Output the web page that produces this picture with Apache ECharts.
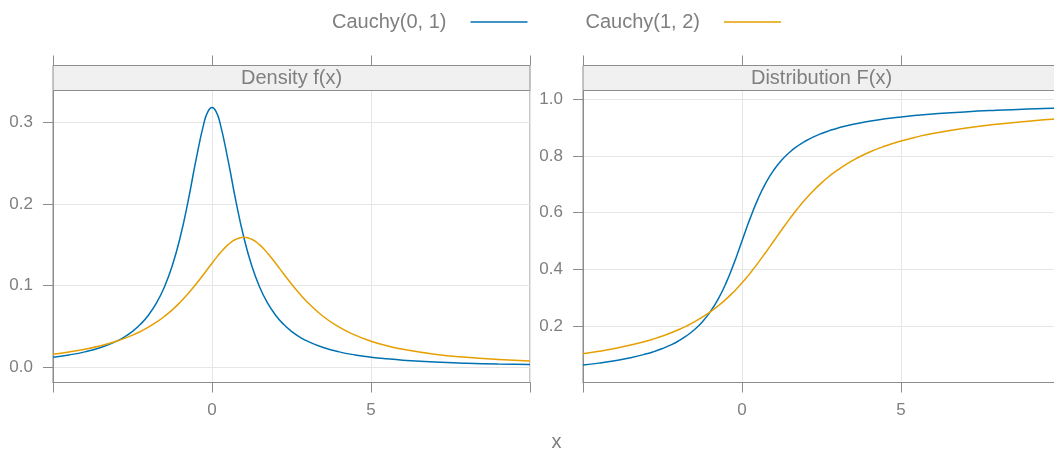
<!DOCTYPE html>
<html>
<head>
<meta charset="utf-8">
<script src="https://cdn.jsdelivr.net/npm/echarts@6/dist/echarts.min.js"></script>
<style>
  html, body { margin: 0; padding: 0; background: #ffffff; overflow: hidden; }
  /* canvas is a little wider than the window: the right panel runs past the edge */
  #chart { width: 1062px; height: 454px; }
</style>
</head>
<body>
<div id="chart"></div>
<script>
// Evaluation points along x
const xs = [-5, -4.5, -4, -3.5, -3, -2.75, -2.5, -2.25, -2, -1.75, -1.5, -1.25, -1, -0.75, -0.5, -0.25, -0.125,
  0, 0.125, 0.25, 0.5, 0.75, 1, 1.25, 1.5, 1.75, 2, 2.25, 2.5, 2.75, 3, 3.5, 4, 4.5, 5, 5.5, 6, 7, 8, 9, 10];

// Density f(x)
const densityStd = [0.01224, 0.01498, 0.01872, 0.02402, 0.03183, 0.03718, 0.04390, 0.05251, 0.06366, 0.07835,
  0.09794, 0.12422, 0.15915, 0.20372, 0.25465, 0.29959, 0.31341, 0.31831, 0.31341, 0.29959, 0.25465, 0.20372,
  0.15915, 0.12422, 0.09794, 0.07835, 0.06366, 0.05251, 0.04390, 0.03718, 0.03183, 0.02402, 0.01872, 0.01498,
  0.01224, 0.01019, 0.00860, 0.00637, 0.00490, 0.00388, 0.00315];
const densityShift = [0.01592, 0.01859, 0.02195, 0.02625, 0.03183, 0.03525, 0.03918, 0.04372, 0.04897, 0.05506,
  0.06211, 0.07025, 0.07958, 0.09014, 0.10186, 0.11445, 0.12090, 0.12732, 0.13359, 0.13953, 0.14979, 0.15671,
  0.15915, 0.15671, 0.14979, 0.13953, 0.12732, 0.11445, 0.10186, 0.09014, 0.07958, 0.06211, 0.04897, 0.03918,
  0.03183, 0.02625, 0.02195, 0.01592, 0.01201, 0.00936, 0.00749];

// Distribution F(x)
const cdfStd = [0.06283, 0.06960, 0.07798, 0.08859, 0.10242, 0.11102, 0.12112, 0.13313, 0.14758, 0.16525,
  0.18717, 0.21478, 0.25, 0.29517, 0.35242, 0.42202, 0.46042, 0.5, 0.53958, 0.57798, 0.64758, 0.70483,
  0.75, 0.78522, 0.81283, 0.83475, 0.85242, 0.86688, 0.87888, 0.88898, 0.89758, 0.91141, 0.92202, 0.93040,
  0.93717, 0.94275, 0.94743, 0.95483, 0.96042, 0.96478, 0.96827];
const cdfShift = [0.10242, 0.11102, 0.12112, 0.13313, 0.14758, 0.15596, 0.16525, 0.17560, 0.18717, 0.20016,
  0.21478, 0.23130, 0.25, 0.27119, 0.29517, 0.32219, 0.33690, 0.35242, 0.36873, 0.38580, 0.42202, 0.46042,
  0.5, 0.53958, 0.57798, 0.61420, 0.64758, 0.67781, 0.70483, 0.72881, 0.75, 0.78522, 0.81283, 0.83475,
  0.85242, 0.86688, 0.87888, 0.89758, 0.91141, 0.92202, 0.93040];

const seriesNames = ['Cauchy(0, 1)', 'Cauchy(1, 2)'];
const panelTitles = ['Density f(x)', 'Distribution F(x)'];
const xLabelTicks = [0, 5];
const densityTicks = [0, 0.1, 0.2, 0.3];
const cdfTicks = [0.2, 0.4, 0.6, 0.8, 1.0];
const xTitle = 'x';

// Styling
const COLORS = ['#0072B2', '#E69F00'];
const TEXT = '#7f7f7f';
const FRAME = '#8c8c8c';
const GRIDLINE = '#e6e6e6';
const STRIP_FILL = '#f0f0f0';
const FONT = '"Liberation Sans", Arial, Helvetica, sans-serif';

// Panel geometry
const TOP = 90.5, HEIGHT = 292, WIDTH = 477, STRIP = 25;
const panels = [
  { left: 53, title: panelTitles[0], ticks: densityTicks, min: -0.0188, max: 0.339, values: [densityStd, densityShift] },
  { left: 583, title: panelTitles[1], ticks: cdfTicks, min: 0.0013, max: 1.0303, values: [cdfStd, cdfShift] }
];

const grid = panels.map(p => ({
  left: p.left, top: TOP, width: WIDTH, height: HEIGHT,
  outerBoundsMode: 'none', containLabel: false,
  show: true, borderColor: FRAME, borderWidth: 1, backgroundColor: '#ffffff'
}));

const xAxis = [];
panels.forEach((p, i) => {
  // bottom axis with labels
  xAxis.push({
    gridIndex: i, type: 'value', min: -5, max: 10, interval: 5, position: 'bottom',
    axisLine: { show: true, onZero: false, lineStyle: { color: FRAME, width: 1 } },
    axisTick: { show: true, length: 10, lineStyle: { color: FRAME, width: 1 } },
    axisLabel: {
      show: true, margin: 19, fontSize: 17, fontFamily: FONT, color: TEXT,
      showMinLabel: true, showMaxLabel: true,
      formatter: v => (xLabelTicks.includes(v) ? String(v) : '')
    },
    splitLine: { show: true, lineStyle: { color: GRIDLINE, width: 1 } }
  });
  // top axis: tick marks above the strip
  xAxis.push({
    gridIndex: i, type: 'value', min: -5, max: 10, interval: 5, position: 'top', offset: STRIP,
    axisLine: { show: false, onZero: false },
    axisTick: { show: true, length: 10, lineStyle: { color: FRAME, width: 1 } },
    axisLabel: { show: false },
    splitLine: { show: false }
  });
});

const yAxis = panels.map((p, i) => ({
  gridIndex: i, type: 'value', min: p.min, max: p.max, position: 'left',
  axisLine: { show: true, onZero: false, lineStyle: { color: FRAME, width: 1 } },
  axisTick: { show: true, length: 10, customValues: p.ticks, lineStyle: { color: FRAME, width: 1 } },
  axisLabel: {
    show: true, margin: 20, fontSize: 17, fontFamily: FONT, color: TEXT,
    customValues: p.ticks, formatter: v => v.toFixed(1)
  },
  splitLine: { show: true, lineStyle: { color: GRIDLINE, width: 1 } }
}));

const series = [];
panels.forEach((p, i) => {
  p.values.forEach((vals, s) => {
    series.push({
      type: 'line', name: seriesNames[s],
      xAxisIndex: 2 * i, yAxisIndex: i,
      data: xs.map((x, k) => [x, vals[k]]),
      smooth: true, showSymbol: false, symbol: 'none',
      lineStyle: { color: COLORS[s], width: 1.5 },
      itemStyle: { color: COLORS[s] },
      emphasis: { disabled: true }
    });
  });
});

const graphic = [];
panels.forEach(p => {
  graphic.push({
    type: 'rect', z: 10,
    shape: { x: p.left, y: TOP - STRIP, width: WIDTH, height: STRIP },
    style: { fill: STRIP_FILL, stroke: FRAME, lineWidth: 1 }
  });
  graphic.push({
    type: 'text', z: 11,
    x: p.left + WIDTH / 2, y: TOP - STRIP / 2,
    style: { text: p.title, fill: TEXT, font: '20px ' + FONT, textAlign: 'center', textVerticalAlign: 'middle' }
  });
});
graphic.push({
  type: 'text', z: 11, x: 556.5, y: 442,
  style: { text: xTitle, fill: TEXT, font: '20px ' + FONT, textAlign: 'center', textVerticalAlign: 'middle' }
});

const chart = echarts.init(document.getElementById('chart'), null, { renderer: 'canvas' });
chart.setOption({
  animation: false,
  backgroundColor: '#ffffff',
  textStyle: { fontFamily: FONT },
  legend: {
    data: seriesNames, left: 327, top: 7, align: 'right',
    icon: 'rect', itemWidth: 57, itemHeight: 1.5, itemGap: 58,
    textStyle: { fontSize: 20, color: TEXT, fontFamily: FONT, padding: [0, 19, 0, 0] },
    selectedMode: false
  },
  grid, xAxis, yAxis, series, graphic
});
</script>
</body>
</html>
